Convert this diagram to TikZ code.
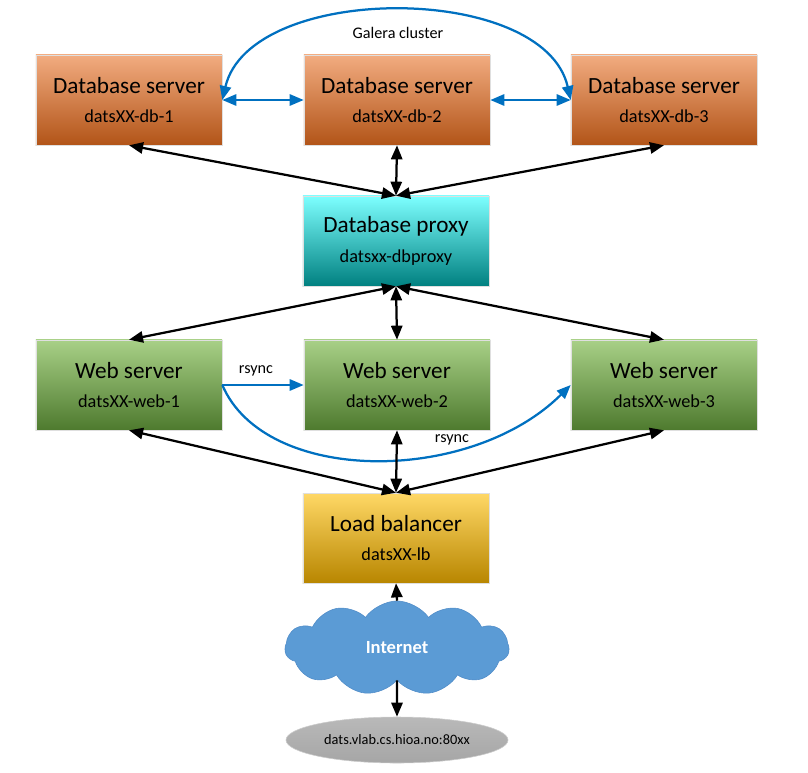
\documentclass[tikz,border=0pt]{standalone}
\usepackage{fontspec}
\setmainfont{Carlito}
\usetikzlibrary{arrows.meta,shapes.symbols,shapes.geometric}

\definecolor{syncblue}{RGB}{0,112,192}
\definecolor{cloudblue}{RGB}{91,155,213}

\newcommand{\srvtext}[2]{#1\\[1pt]{\fontsize{13}{16}\selectfont #2}}

\begin{document}
\begin{tikzpicture}[x=0.025cm, y=-0.025cm,
    server/.style={draw=gray!25, minimum width=4.65cm, minimum height=2.25cm,
        align=center, font=\fontsize{16.5}{20}\selectfont},
    dbbox/.style={server, top color={rgb,255:red,242;green,172;blue,128},
        middle color={rgb,255:red,233;green,126;blue,55},
        bottom color={rgb,255:red,178;green,84;blue,24}},
    proxybox/.style={server, top color={rgb,255:red,125;green,255;blue,255},
        middle color={rgb,255:red,0;green,228;blue,228},
        bottom color={rgb,255:red,0;green,128;blue,128}},
    webbox/.style={server, top color={rgb,255:red,168;green,208;blue,135},
        middle color={rgb,255:red,112;green,168;blue,68},
        bottom color={rgb,255:red,78;green,122;blue,46}},
    lbbox/.style={server, top color={rgb,255:red,255;green,216;blue,102},
        middle color={rgb,255:red,255;green,190;blue,0},
        bottom color={rgb,255:red,184;green,134;blue,0}},
    link/.style={line width=1.6pt, {Triangle[length=10pt,width=8pt]}-{Triangle[length=10pt,width=8pt]}},
    oneway/.style={line width=1.6pt, -{Triangle[length=10pt,width=8pt]}},
    sync/.style={line width=1.6pt, syncblue, -{Triangle[length=10pt,width=8pt]}},
    twosync/.style={sync, {Triangle[length=10pt,width=8pt]}-{Triangle[length=10pt,width=8pt]}},
    small/.style={font=\fontsize{11.5}{14}\selectfont}]
    \useasboundingbox (0,0) rectangle (808,772);

    % database layer
    \node [dbbox] (db1) at (129,100) {\srvtext{Database server}{datsXX-db-1}};
    \node [dbbox] (db2) at (397,100) {\srvtext{Database server}{datsXX-db-2}};
    \node [dbbox] (db3) at (664,100) {\srvtext{Database server}{datsXX-db-3}};
    % proxy
    \node [proxybox] (proxy) at (396,241) {\srvtext{Database proxy}{datsxx-dbproxy}};
    % web layer
    \node [webbox] (web1) at (129,385) {\srvtext{Web server}{datsXX-web-1}};
    \node [webbox] (web2) at (397,385) {\srvtext{Web server}{datsXX-web-2}};
    \node [webbox] (web3) at (664,385) {\srvtext{Web server}{datsXX-web-3}};
    % front
    \node [lbbox] (lb) at (396,538) {\srvtext{Load balancer}{datsXX-lb}};
    \node [cloud, cloud puffs=11, cloud puff arc=110, aspect=2.4, fill=cloudblue,
        draw={rgb,255:red,80;green,140;blue,200}, minimum width=5.6cm, minimum height=2.35cm,
        text=white, font=\fontsize{13.2}{16}\selectfont\bfseries] (net) at (397,648) {Internet};
    \node [ellipse, draw=gray!40, top color=gray!55, middle color=gray!22, bottom color=gray!70,
        minimum width=5.55cm, minimum height=1.15cm, inner sep=0pt,
        font=\fontsize{10.2}{12}\selectfont] (site) at (397,740) {dats.vlab.cs.hioa.no:80xx};

    % galera replication
    \draw [twosync] (db1.east) .. controls (250,-18) and (544,-18) .. (db3.west);
    \node [small] (galera) at (398,33) {Galera cluster};
    \draw [twosync] (db1.east) -- (db2.west);
    \draw [twosync] (db2.east) -- (db3.west);

    % database to proxy
    \draw [link] (db1.south) -- (proxy.north);
    \draw [link] (db2.south) -- (proxy.north);
    \draw [link] (db3.south) -- (proxy.north);
    % proxy to web
    \draw [link] (proxy.south) -- (web1.north);
    \draw [link] (proxy.south) -- (web2.north);
    \draw [link] (proxy.south) -- (web3.north);

    % file sync between web servers
    \draw [sync] (web1.east) -- (web2.west);
    \node [small] (rsynca) at (256,371) {rsync};
    \draw [sync] (web1.east) .. controls (265,485) and (470,485) .. (web3.west);
    \node [small] (rsyncb) at (452,440) {rsync};

    % web to load balancer
    \draw [link] (web1.south) -- (lb.north);
    \draw [link] (web2.south) -- (lb.north);
    \draw [link] (web3.south) -- (lb.north);
    % outside
    \draw [oneway] (net.north) -- (lb.south);
    \draw [oneway] (net.south) -- (site.north);
\end{tikzpicture}
\end{document}
